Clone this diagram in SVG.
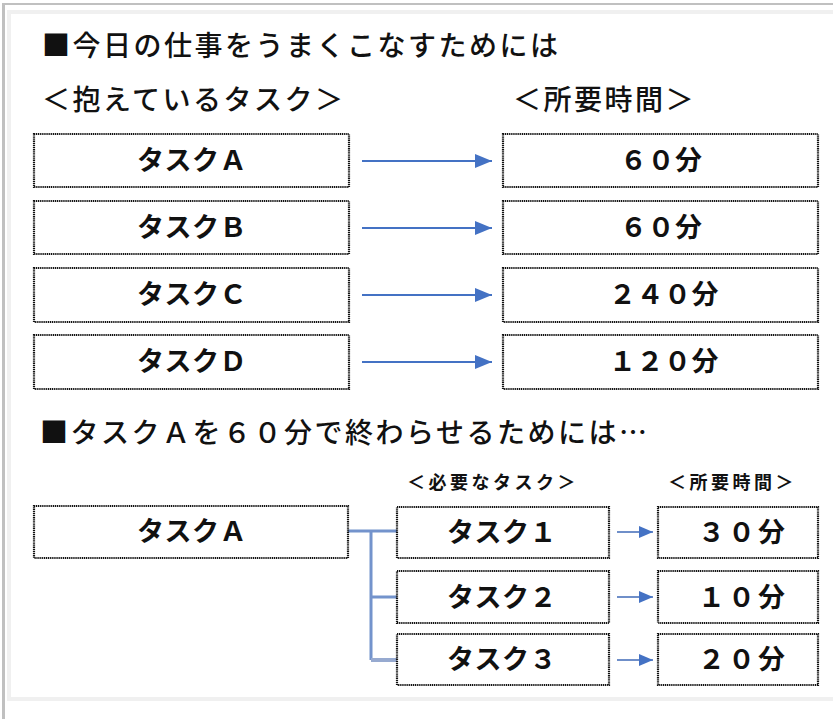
<svg xmlns="http://www.w3.org/2000/svg" width="833" height="719" viewBox="0 0 833 719">
<style>
.h{font-family:"Noto Sans CJK JP","Noto Sans CJK SC",sans-serif;font-size:28px;letter-spacing:2.5px;fill:#111;font-weight:500}
.bt{font-family:"Noto Sans CJK JP","Noto Sans CJK SC",sans-serif;font-size:27px;letter-spacing:0.5px;fill:#111;font-weight:700}
.bt3{letter-spacing:3px}
.sl{font-family:"Noto Sans CJK JP","Noto Sans CJK SC",sans-serif;font-size:18px;letter-spacing:3.5px;fill:#111;font-weight:700}
.box{fill:#fff;stroke:#111;stroke-width:2.2;stroke-dasharray:1.2 0.7}
.arr{stroke:#4472C4;stroke-width:2;fill:none}
.arr2{stroke:#6f8fc9;stroke-width:2;fill:none}
.tree{stroke:#7393cc;stroke-width:3;fill:none}
</style>
<defs>
<marker id="ah" markerUnits="userSpaceOnUse" markerWidth="18" markerHeight="16" refX="17" refY="8" orient="auto">
<path d="M0,1 L17,8 L0,15 Z" fill="#4472C4"/>
</marker>
<marker id="ah2" markerUnits="userSpaceOnUse" markerWidth="15" markerHeight="14" refX="14" refY="7" orient="auto">
<path d="M0,1 L14,7 L0,13 Z" fill="#4472C4"/>
</marker>
</defs>
<rect width="833" height="719" fill="#fff"/>
<g id="frame">
<rect x="2" y="3" width="3" height="716" fill="#c0c0c0"/>
<rect x="2" y="3" width="831" height="2" fill="#c0c0c0"/>
<rect x="7" y="10" width="826" height="4" fill="#f0f0f0"/>
<rect x="7" y="10" width="4" height="691" fill="#f0f0f0"/>
<rect x="7" y="697" width="826" height="4" fill="#f0f0f0"/>
</g>
<g id="headings">
<text class="h" x="42" y="56">■今日の仕事をうまくこなすためには</text>
<text class="h" x="42" y="110">＜抱えているタスク＞</text>
<text class="h" x="513" y="110">＜所要時間＞</text>
<text class="h" x="40" y="443">■タスクＡを６０分で終わらせるためには…</text>
<text class="sl" x="407" y="489">＜必要なタスク＞</text>
<text class="sl" x="668" y="489">＜所要時間＞</text>
</g>
<g id="connectors">
<line class="arr" x1="362" y1="161" x2="492" y2="161" marker-end="url(#ah)"/>
<line class="arr" x1="362" y1="228" x2="492" y2="228" marker-end="url(#ah)"/>
<line class="arr" x1="362" y1="295" x2="492" y2="295" marker-end="url(#ah)"/>
<line class="arr" x1="362" y1="362" x2="492" y2="362" marker-end="url(#ah)"/>
<path class="tree" d="M348,531 H397 M371,531 V660 M371,597 H397"/>
<path d="M371,660 H397" stroke="#97aad0" stroke-width="4" fill="none"/>
<line class="arr2" x1="617" y1="532" x2="653" y2="532" marker-end="url(#ah2)"/>
<line class="arr2" x1="617" y1="597" x2="653" y2="597" marker-end="url(#ah2)"/>
<line class="arr2" x1="617" y1="660" x2="653" y2="660" stroke="#9aaed3" marker-end="url(#ah2)"/>
</g>
<g id="taskA"><rect class="box" x="34" y="134" width="315" height="53"/><text class="bt" x="137" y="170">タスクＡ</text></g>
<g id="taskB"><rect class="box" x="34" y="201" width="315" height="53"/><text class="bt" x="137" y="237">タスクＢ</text></g>
<g id="taskC"><rect class="box" x="34" y="268" width="315" height="54"/><text class="bt" x="137" y="304">タスクＣ</text></g>
<g id="taskD"><rect class="box" x="34" y="335" width="315" height="54"/><text class="bt" x="137" y="371">タスクＤ</text></g>
<g id="timeA"><rect class="box" x="503" y="134" width="315" height="53"/><text class="bt" x="620" y="170">６０分</text></g>
<g id="timeB"><rect class="box" x="503" y="201" width="315" height="53"/><text class="bt" x="620" y="237">６０分</text></g>
<g id="timeC"><rect class="box" x="503" y="268" width="315" height="54"/><text class="bt" x="609" y="304">２４０分</text></g>
<g id="timeD"><rect class="box" x="503" y="335" width="315" height="54"/><text class="bt" x="609" y="371">１２０分</text></g>
<g id="taskA2"><rect class="box" x="34" y="506" width="314" height="52"/><text class="bt" x="137" y="541">タスクＡ</text></g>
<g id="task1"><rect class="box" x="397" y="507" width="212" height="51"/><text class="bt" x="447" y="542">タスク１</text></g>
<g id="task2"><rect class="box" x="397" y="571" width="212" height="52"/><text class="bt" x="447" y="607">タスク２</text></g>
<g id="task3"><rect class="box" x="397" y="634" width="212" height="51"/><text class="bt" x="447" y="669">タスク３</text></g>
<g id="time1"><rect class="box" x="658" y="507" width="160" height="51"/><text class="bt bt3" x="698" y="542">３０分</text></g>
<g id="time2"><rect class="box" x="658" y="571" width="160" height="52"/><text class="bt bt3" x="698" y="607">１０分</text></g>
<g id="time3"><rect class="box" x="658" y="634" width="160" height="51"/><text class="bt bt3" x="698" y="669">２０分</text></g>
</svg>
